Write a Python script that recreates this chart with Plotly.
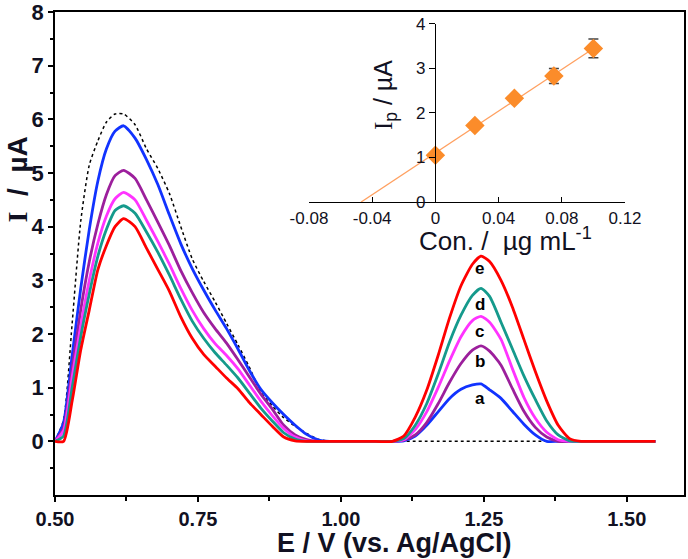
import plotly.graph_objects as go

# ---------------- data ----------------
potential = [0.50, 0.515, 0.53, 0.545, 0.56, 0.575, 0.59, 0.605, 0.62,
             0.64, 0.66, 0.68, 0.70, 0.72, 0.74, 0.76, 0.78, 0.80,
             0.82, 0.84, 0.86, 0.88, 0.90, 0.92, 0.94, 0.96, 0.98,
             1.00, 1.05, 1.09,
             1.11, 1.13, 1.15, 1.17, 1.19, 1.21, 1.23, 1.245,
             1.26, 1.28, 1.30, 1.32, 1.34, 1.36, 1.38, 1.40, 1.42,
             1.45, 1.50, 1.55]

blank = [0, 0.4, 2.2, 4.1, 5.15, 5.6, 5.95, 6.1, 6.1,
         5.9, 5.45, 5.08, 4.62, 4.0, 3.4, 2.98, 2.6, 2.2,
         1.8, 1.38, 0.92, 0.66, 0.44, 0.28, 0.15, 0.04, 0,
         0, 0, 0,
         0, 0, 0, 0, 0, 0, 0, 0,
         0, 0, 0, 0, 0, 0, None, None, None,
         None, None, None]

curve_a = [0, 0.35, 1.6, 2.85, 3.95, 4.85, 5.45, 5.78, 5.88,
           5.65, 5.25, 4.78, 4.22, 3.68, 3.22, 2.82, 2.45, 2.1,
           1.72, 1.32, 0.97, 0.72, 0.5, 0.3, 0.13, 0.03, 0,
           0, 0, 0,
           0.01, 0.1, 0.3, 0.55, 0.8, 0.97, 1.05, 1.07,
           0.96, 0.8, 0.56, 0.32, 0.12, 0.0, 0, 0, 0,
           0, 0, 0]

curve_b = [0, 0.25, 1.35, 2.45, 3.35, 4.05, 4.6, 4.95, 5.05,
           4.9, 4.5, 4.08, 3.65, 3.18, 2.77, 2.4, 2.1, 1.83,
           1.52, 1.2, 0.88, 0.6, 0.3, 0.12, 0.03, 0, 0,
           0, 0, 0,
           0.02, 0.12, 0.35, 0.7, 1.1, 1.45, 1.7, 1.78,
           1.68, 1.42, 0.98, 0.56, 0.26, 0.08, 0, 0, 0,
           0, 0, 0]

curve_c = [0, 0.2, 1.2, 2.15, 3.0, 3.7, 4.2, 4.52, 4.64,
           4.5, 4.12, 3.72, 3.3, 2.85, 2.44, 2.1, 1.82, 1.6,
           1.35, 1.05, 0.75, 0.48, 0.24, 0.08, 0.01, 0, 0,
           0, 0, 0,
           0.03, 0.22, 0.55, 1.0, 1.5, 1.95, 2.25, 2.33,
           2.22, 1.9, 1.35, 0.82, 0.43, 0.17, 0.03, 0, 0,
           0, 0, 0]

curve_d = [0, 0.1, 1.0, 1.95, 2.75, 3.45, 3.95, 4.3, 4.39,
           4.25, 3.9, 3.52, 3.1, 2.65, 2.24, 1.92, 1.65, 1.42,
           1.18, 0.9, 0.62, 0.38, 0.16, 0.04, 0, 0, 0,
           0, 0, 0,
           0.05, 0.3, 0.7, 1.25, 1.85, 2.35, 2.72, 2.85,
           2.7, 2.22, 1.72, 1.22, 0.78, 0.38, 0.12, 0.01, 0,
           0, 0, 0]

curve_e = [0, 0.0, 0.75, 1.7, 2.45, 3.2, 3.65, 4.0, 4.15,
           4.0, 3.6, 3.2, 2.8, 2.32, 1.92, 1.62, 1.4, 1.18,
           0.98, 0.72, 0.5, 0.28, 0.08, 0.01, 0, 0, 0,
           0, 0, 0,
           0.1, 0.45, 0.95, 1.6, 2.3, 2.9, 3.3, 3.45,
           3.35, 3.0, 2.5, 1.9, 1.3, 0.75, 0.3, 0.05, 0,
           0, 0, 0]

curve_names = ["a", "b", "c", "d", "e"]
curve_colors = ["#1133ff", "#9c1f9c", "#ff33ff", "#159a8c", "#ff0000"]
label_y = [0.80, 1.49, 2.05, 2.55, 3.22]
label_x = 1.243

x_ticks = [0.5, 0.75, 1.0, 1.25, 1.5]
x_tick_text = ["0.50", "0.75", "1.00", "1.25", "1.50"]
y_ticks = [0, 1, 2, 3, 4, 5, 6, 7, 8]

# inset (calibration plot)
conc = [0.0, 0.025, 0.05, 0.075, 0.10]
peak_current = [1.05, 1.72, 2.33, 2.83, 3.45]
peak_error = [0.04, 0.05, 0.05, 0.17, 0.21]
fit_x = [-0.047, 0.10]
fit_y = [0.0, 3.45]
inset_x_ticks = [-0.08, -0.04, 0, 0.04, 0.08, 0.12]
inset_x_text = ["-0.08", "-0.04", "0", "0.04", "0.08", "0.12"]
inset_y_ticks = [0, 1, 2, 3, 4]

# ---------------- figure ----------------
FONT = "Liberation Sans, Arial, sans-serif"
SERIF = "Liberation Serif"
TXT = "#111122"
NB = "\u00a0"

fig = go.Figure()

fig.add_trace(go.Scatter(x=potential, y=blank, mode="lines",
                         line=dict(color="black", width=1.5, dash="3px,3px", shape="spline", smoothing=0.6),
                         connectgaps=False, showlegend=False))

curves = [curve_a, curve_b, curve_c, curve_d, curve_e]
for ys, col in zip(curves, curve_colors):
    fig.add_trace(go.Scatter(x=potential, y=ys, mode="lines",
                             line=dict(color=col, width=2.8, shape="spline", smoothing=0.6),
                             showlegend=False))

for nm, ly in zip(curve_names, label_y):
    fig.add_annotation(x=label_x, y=ly, text="<b>" + nm + "</b>", showarrow=False,
                       xanchor="center", yanchor="middle",
                       font=dict(family=FONT, size=17, color="black"))

# inset traces
fig.add_trace(go.Scatter(x=fit_x, y=fit_y, mode="lines", xaxis="x2", yaxis="y2",
                         line=dict(color="#ffa060", width=1.3), showlegend=False))
fig.add_trace(go.Scatter(x=conc, y=peak_current, mode="markers", xaxis="x2", yaxis="y2",
                         marker=dict(symbol="diamond", size=15, color="#fb8c2a"),
                         error_y=dict(type="data", array=peak_error, color="#444444",
                                      thickness=1.5, width=5),
                         showlegend=False))

fig.update_layout(
    width=688, height=559,
    margin=dict(l=55, r=4, t=12, b=64, autoexpand=False),
    paper_bgcolor="white", plot_bgcolor="white",
    font=dict(family=FONT, color=TXT),
    xaxis=dict(range=[0.5, 1.6], tickvals=x_ticks,
               ticktext=["<b>%s</b>" % t for t in x_tick_text],
               ticks="outside", ticklen=5, tickwidth=1.5, tickcolor="black",
               minor=dict(tickvals=[0.625, 0.875, 1.125, 1.375], ticks="outside", ticklen=4, tickcolor="black"),
               showline=True, linecolor="black", linewidth=1.6, mirror=True,
               showgrid=False, zeroline=False, ticklabeloverflow="allow",
               tickfont=dict(family=FONT, size=20, color=TXT)),
    yaxis=dict(range=[-1, 8], tickvals=y_ticks,
               ticktext=["<b>%d</b>" % v for v in y_ticks],
               ticks="outside", ticklen=5, tickwidth=1.5, tickcolor="black",
               minor=dict(tickvals=[-0.5 + i for i in range(9)], ticks="outside", ticklen=3, tickcolor="black"),
               showline=True, linecolor="black", linewidth=1.6, mirror=True,
               showgrid=False, zeroline=False, ticklabeloverflow="allow",
               tickfont=dict(family=FONT, size=22, color=TXT)),
    xaxis2=dict(domain=[0.4038, 0.9062], anchor="y2", range=[-0.08, 0.12],
                tickvals=inset_x_ticks, ticktext=inset_x_text,
                ticks="inside", ticklen=5, tickcolor="black",
                showline=True, linecolor="black", linewidth=1.3,
                showgrid=False, zeroline=False,
                tickfont=dict(family=FONT, size=17, color=TXT)),
    yaxis2=dict(domain=[0.6066, 0.9752], anchor="free", position=0.6041, range=[0, 4],
                tickvals=inset_y_ticks, ticks="outside", ticklen=6, tickcolor="black",
                showline=True, linecolor="black", linewidth=1.3,
                showgrid=False, zeroline=False,
                tickfont=dict(family=FONT, size=17, color=TXT)),
)

# axis titles as annotations
fig.add_annotation(xref="paper", yref="paper", x=0.54, y=-0.1,
                   xanchor="center", yanchor="middle",
                   text="<b>E / V (vs. Ag/AgCl)</b>", showarrow=False,
                   font=dict(family=FONT, size=27, color=TXT))
fig.add_annotation(xref="paper", yref="paper", x=-0.06, y=0.654,
                   xanchor="center", yanchor="middle",
                   text="<b><span style='font-family:%s'>I</span>%s/%sµA</b>" % (SERIF, NB * 2, NB * 2),
                   textangle=-90, showarrow=False,
                   font=dict(family=FONT, size=28, color=TXT))
fig.add_annotation(xref="paper", yref="paper", x=0.5246, y=0.828,
                   xanchor="center", yanchor="middle",
                   text="<span style='font-family:%s'>I</span><sub>p</sub> / µA" % SERIF,
                   textangle=-90, showarrow=False,
                   font=dict(family=FONT, size=25, color=TXT))
fig.add_annotation(xref="paper", yref="paper", x=0.717, y=0.530,
                   xanchor="center", yanchor="middle",
                   text="Con. /  µg mL<sup>-1</sup>", showarrow=False,
                   font=dict(family=FONT, size=26, color=TXT))

fig.write_html("out.html", config={"displayModeBar": False},
               post_script="document.body.style.margin='0';document.body.style.overflow='hidden';")
